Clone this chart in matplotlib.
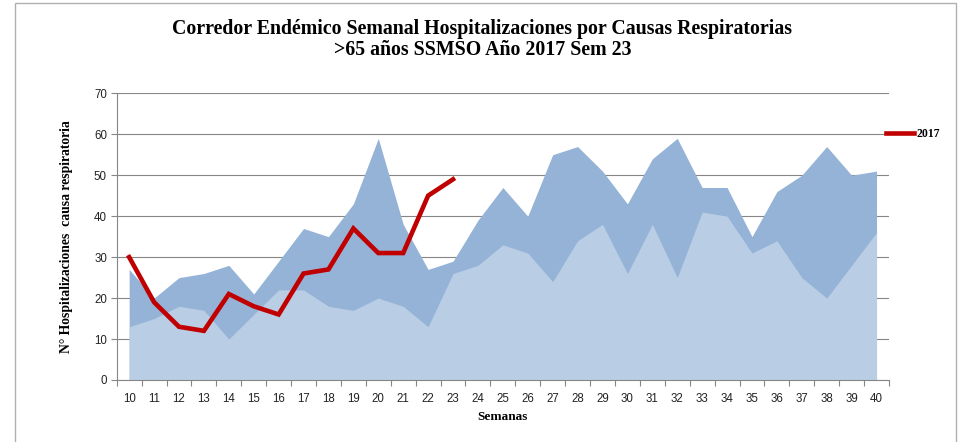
import matplotlib.pyplot as plt
from matplotlib.patches import Rectangle
import numpy as np

# semanas epidemiologicas
semanas = list(range(10, 41))

# zona superior (alerta) y zona inferior (exito/seguridad) del corredor
zona_alta = [27, 20, 25, 26, 28, 21, 29, 37, 35, 43, 59, 38, 27, 29, 39, 47,
             40, 55, 57, 51, 43, 54, 59, 47, 47, 35, 46, 50, 57, 50, 51]
zona_baja = [13, 15, 18, 17, 10, 16, 22, 22, 18, 17, 20, 18, 13, 26, 28, 33,
             31, 24, 34, 38, 26, 38, 25, 41, 40, 31, 34, 25, 20, 28, 36]

# casos 2017 hasta la semana 23
semanas_2017 = list(range(10, 24))
casos_2017 = [30, 19, 13, 12, 21, 18, 16, 26, 27, 37, 31, 31, 45, 49]

serif = 'Liberation Serif'
sans = 'Liberation Sans'
grey = '#868686'

fig = plt.figure(figsize=(9.65, 4.42), dpi=100)
ax = fig.add_axes([116.7 / 965, 1 - 380 / 442, (889 - 116.7) / 965, (380 - 93.3) / 442])

ax.fill_between(semanas, zona_alta, 0, color='#95B3D7', lw=0, zorder=2)
ax.fill_between(semanas, zona_baja, 0, color='#B9CDE5', lw=0, zorder=3)
ax.plot(semanas_2017, casos_2017, color='#C00000', lw=3.3, zorder=4,
        solid_joinstyle='miter', label='2017')

ax.set_xlim(9.5, 40.5)
ax.set_ylim(0, 70)
ax.set_yticks(np.arange(0, 71, 10))
ax.set_xticks(semanas)
ax.set_xticks(np.arange(9.5, 41, 1), minor=True)
ax.tick_params(axis='x', which='major', length=0, pad=9, labelsize=8.3, colors='#222222')
ax.tick_params(axis='x', which='minor', length=4, width=0.8, color=grey)
ax.tick_params(axis='y', length=4, width=0.8, color=grey, labelsize=8.3,
               labelcolor='#222222', pad=3)
for lab in ax.get_xticklabels() + ax.get_yticklabels():
    lab.set_family(sans)

ax.grid(axis='y', color=grey, lw=0.8, zorder=1)
ax.set_axisbelow(True)
for s in ['top', 'right']:
    ax.spines[s].set_visible(False)
for s in ['left', 'bottom']:
    ax.spines[s].set_color(grey)
    ax.spines[s].set_linewidth(0.8)
ax.spines['bottom'].set_zorder(5)

ax.set_xlabel('Semanas', family=serif, fontweight='bold', fontsize=9.5, labelpad=5)
ax.set_ylabel('N° Hospitalizaciones  causa respiratoria', family=serif,
              fontweight='bold', fontsize=9.8, labelpad=15)

fig.text(0.5, 1 - 39.5 / 442,
         'Corredor Endémico Semanal Hospitalizaciones por Causas Respiratorias\n>65 años SSMSO Año 2017 Sem 23',
         ha='center', va='center', family=serif, fontweight='bold', fontsize=14.3,
         linespacing=1.1)

fig.legend(loc='center left', bbox_to_anchor=(886 / 965, 1 - 134 / 442),
           frameon=False, handlelength=2.4, handletextpad=0.15, borderpad=0,
           borderaxespad=0, prop={'family': serif, 'weight': 'bold', 'size': 8.5})

# marco del grafico
fig.patches.append(Rectangle((15 / 965, -0.05), (956 - 15) / 965, 1.05 - 3 / 442,
                             transform=fig.transFigure, fill=False,
                             edgecolor='#B0B0B0', lw=1))

fig.savefig('out.png', dpi=100)
